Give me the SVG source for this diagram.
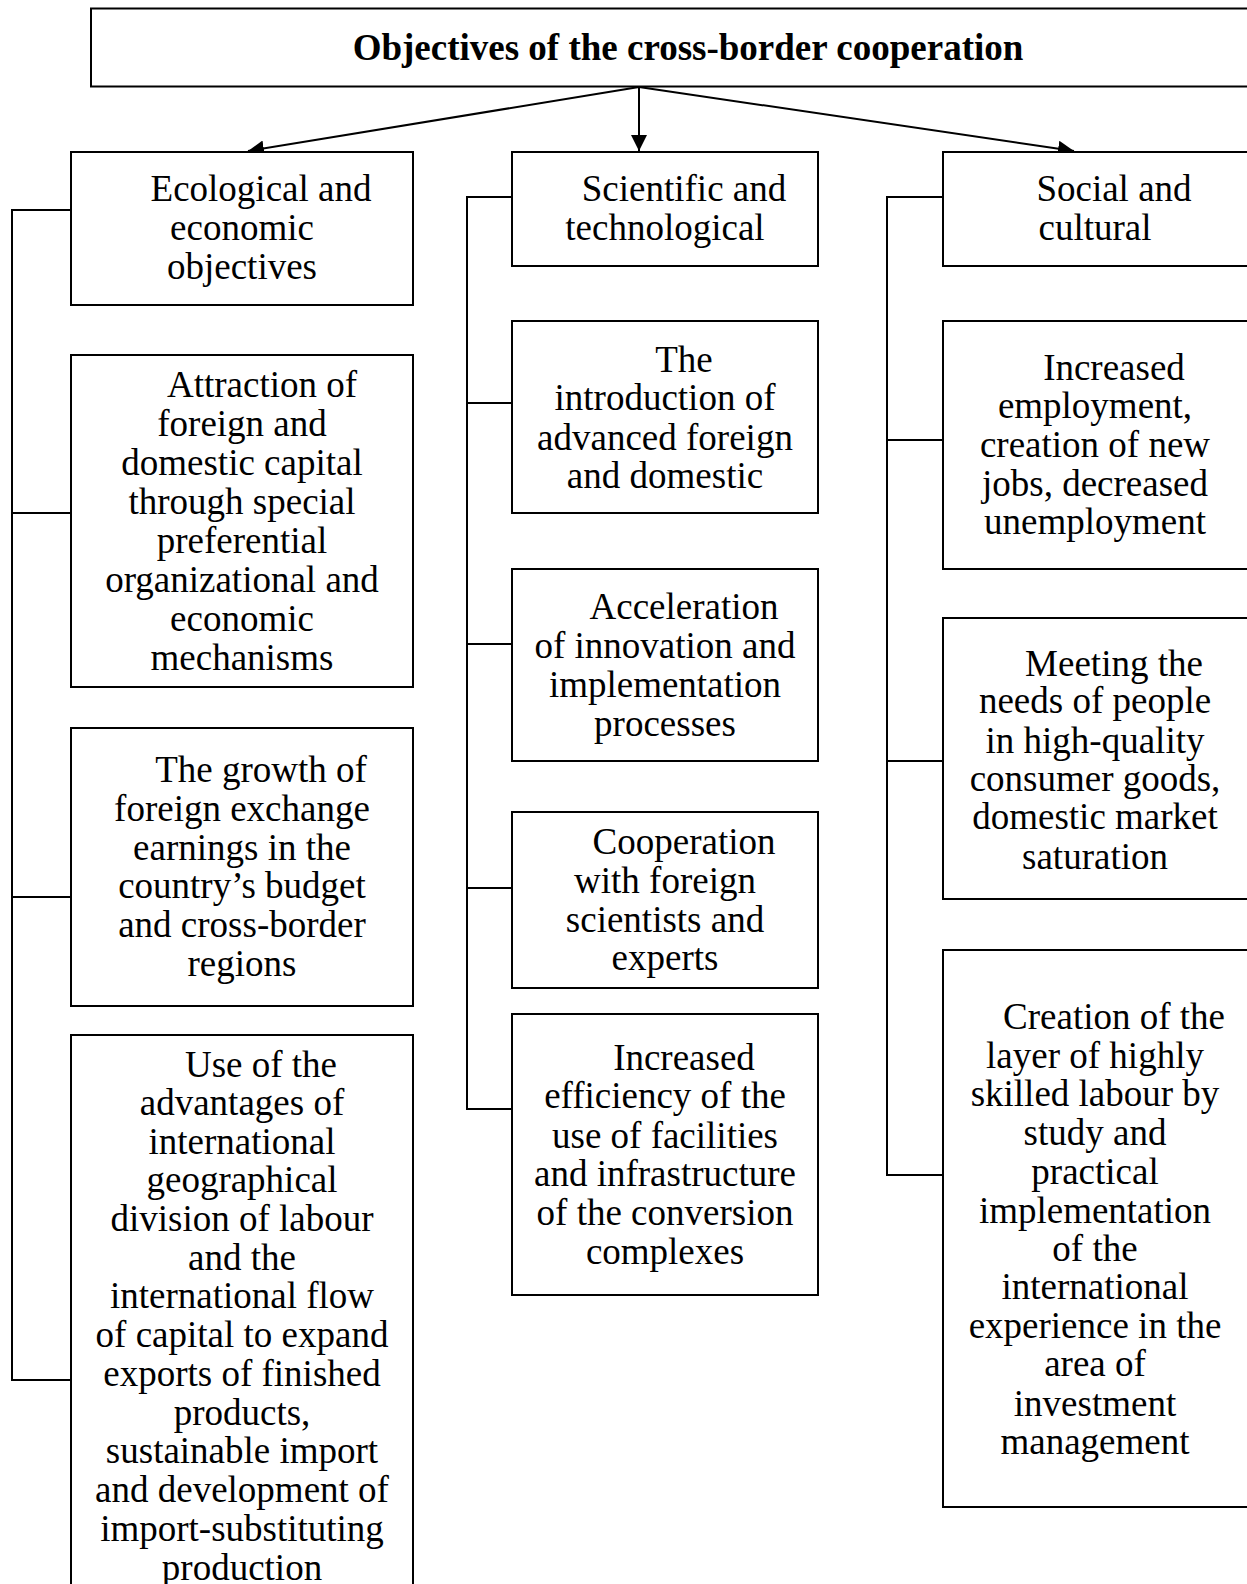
<svg xmlns="http://www.w3.org/2000/svg" width="1247" height="1584" viewBox="0 0 1247 1584">
  <style>
    .box { fill: #ffffff; stroke: #000000; stroke-width: 2; }
    .wire { fill: none; stroke: #000000; stroke-width: 2; }
    .t { font-family: "Liberation Serif", "Times New Roman", serif; font-size: 37px; fill: #000000; text-anchor: middle; }
    .title { font-weight: bold; }
  </style>
  <defs>
    <marker id="arrow" markerUnits="userSpaceOnUse" markerWidth="18" markerHeight="18" refX="16" refY="8" orient="auto">
      <path d="M0,0 L16,8 L0,16 Z" fill="#000000"/>
    </marker>
  </defs>
  <rect width="1247" height="1584" fill="#ffffff"/>

  <!-- connectors -->
  <g id="connectors">
    <line class="wire" x1="639" y1="87" x2="248" y2="151" marker-end="url(#arrow)"/>
    <line class="wire" x1="639" y1="87" x2="639" y2="151" marker-end="url(#arrow)"/>
    <line class="wire" x1="639" y1="87" x2="1074" y2="151" marker-end="url(#arrow)"/>
    <!-- left column bus -->
    <path class="wire" d="M71,210 H12 V1380 H71 M12,513 H71 M12,897 H71"/>
    <!-- middle column bus -->
    <path class="wire" d="M512,197 H467 V1109 H512 M467,403 H512 M467,644 H512 M467,888 H512"/>
    <!-- right column bus -->
    <path class="wire" d="M943,197 H887 V1175 H943 M887,440 H943 M887,761 H943"/>
  </g>

  <!-- root -->
  <g id="root">
    <rect class="box" x="91" y="8.5" width="1200" height="78"/>
    <text class="t title" x="688" y="60">Objectives of the cross-border cooperation</text>
  </g>

  <!-- left column -->
  <g id="eco">
    <rect class="box" x="71" y="152" width="342" height="153"/>
    <text class="t" x="261" y="201">Ecological and</text>
    <text class="t" x="242" y="240">economic</text>
    <text class="t" x="242" y="279">objectives</text>
  </g>
  <g id="eco-capital">
    <rect class="box" x="71" y="355" width="342" height="332"/>
    <text class="t" x="262" y="397">Attraction of</text>
    <text class="t" x="242" y="436">foreign and</text>
    <text class="t" x="242" y="475">domestic capital</text>
    <text class="t" x="242" y="514">through special</text>
    <text class="t" x="242" y="553">preferential</text>
    <text class="t" x="242" y="592">organizational and</text>
    <text class="t" x="242" y="631">economic</text>
    <text class="t" x="242" y="670">mechanisms</text>
  </g>
  <g id="eco-earnings">
    <rect class="box" x="71" y="728" width="342" height="278"/>
    <text class="t" x="261" y="782">The growth of</text>
    <text class="t" x="242" y="821">foreign exchange</text>
    <text class="t" x="242" y="860">earnings in the</text>
    <text class="t" x="242" y="898">country’s budget</text>
    <text class="t" x="242" y="937">and cross-border</text>
    <text class="t" x="242" y="976">regions</text>
  </g>
  <g id="eco-labour">
    <rect class="box" x="71" y="1035" width="342" height="580"/>
    <text class="t" x="261" y="1077">Use of the</text>
    <text class="t" x="242" y="1115">advantages of</text>
    <text class="t" x="242" y="1154">international</text>
    <text class="t" x="242" y="1192">geographical</text>
    <text class="t" x="242" y="1231">division of labour</text>
    <text class="t" x="242" y="1270">and the</text>
    <text class="t" x="242" y="1308">international flow</text>
    <text class="t" x="242" y="1347">of capital to expand</text>
    <text class="t" x="242" y="1386">exports of finished</text>
    <text class="t" x="242" y="1425">products,</text>
    <text class="t" x="242" y="1463">sustainable import</text>
    <text class="t" x="242" y="1502">and development of</text>
    <text class="t" x="242" y="1541">import-substituting</text>
    <text class="t" x="242" y="1580">production</text>
  </g>

  <!-- middle column -->
  <g id="sci">
    <rect class="box" x="512" y="152" width="306" height="114"/>
    <text class="t" x="684" y="201">Scientific and</text>
    <text class="t" x="665" y="240">technological</text>
  </g>
  <g id="sci-intro">
    <rect class="box" x="512" y="321" width="306" height="192"/>
    <text class="t" x="684" y="372">The</text>
    <text class="t" x="665" y="410">introduction of</text>
    <text class="t" x="665" y="450">advanced foreign</text>
    <text class="t" x="665" y="488">and domestic</text>
  </g>
  <g id="sci-innovation">
    <rect class="box" x="512" y="569" width="306" height="192"/>
    <text class="t" x="684" y="619">Acceleration</text>
    <text class="t" x="665" y="658">of innovation and</text>
    <text class="t" x="665" y="697">implementation</text>
    <text class="t" x="665" y="736">processes</text>
  </g>
  <g id="sci-cooperation">
    <rect class="box" x="512" y="812" width="306" height="176"/>
    <text class="t" x="684" y="854">Cooperation</text>
    <text class="t" x="665" y="893">with foreign</text>
    <text class="t" x="665" y="932">scientists and</text>
    <text class="t" x="665" y="970">experts</text>
  </g>
  <g id="sci-efficiency">
    <rect class="box" x="512" y="1014" width="306" height="281"/>
    <text class="t" x="684" y="1070">Increased</text>
    <text class="t" x="665" y="1108">efficiency of the</text>
    <text class="t" x="665" y="1148">use of facilities</text>
    <text class="t" x="665" y="1186">and infrastructure</text>
    <text class="t" x="665" y="1225">of the conversion</text>
    <text class="t" x="665" y="1264">complexes</text>
  </g>

  <!-- right column -->
  <g id="soc">
    <rect class="box" x="943" y="152" width="320" height="114"/>
    <text class="t" x="1114" y="201">Social and</text>
    <text class="t" x="1095" y="240">cultural</text>
  </g>
  <g id="soc-employment">
    <rect class="box" x="943" y="321" width="320" height="248"/>
    <text class="t" x="1114" y="380">Increased</text>
    <text class="t" x="1095" y="418">employment,</text>
    <text class="t" x="1095" y="457">creation of new</text>
    <text class="t" x="1095" y="496">jobs, decreased</text>
    <text class="t" x="1095" y="534">unemployment</text>
  </g>
  <g id="soc-goods">
    <rect class="box" x="943" y="618" width="320" height="281"/>
    <text class="t" x="1114" y="676">Meeting the</text>
    <text class="t" x="1095" y="713">needs of people</text>
    <text class="t" x="1095" y="753">in high-quality</text>
    <text class="t" x="1095" y="791">consumer goods,</text>
    <text class="t" x="1095" y="829">domestic market</text>
    <text class="t" x="1095" y="869">saturation</text>
  </g>
  <g id="soc-skills">
    <rect class="box" x="943" y="950" width="320" height="557"/>
    <text class="t" x="1114" y="1029">Creation of the</text>
    <text class="t" x="1095" y="1068">layer of highly</text>
    <text class="t" x="1095" y="1106">skilled labour by</text>
    <text class="t" x="1095" y="1145">study and</text>
    <text class="t" x="1095" y="1184">practical</text>
    <text class="t" x="1095" y="1223">implementation</text>
    <text class="t" x="1095" y="1261">of the</text>
    <text class="t" x="1095" y="1299">international</text>
    <text class="t" x="1095" y="1338">experience in the</text>
    <text class="t" x="1095" y="1376">area of</text>
    <text class="t" x="1095" y="1416">investment</text>
    <text class="t" x="1095" y="1454">management</text>
  </g>
</svg>
